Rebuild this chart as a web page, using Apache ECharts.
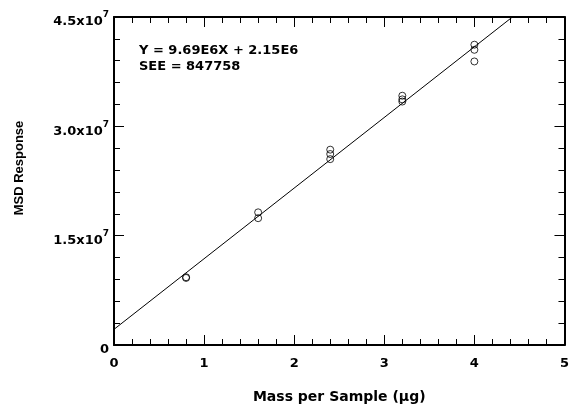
<!DOCTYPE html>
<html>
<head>
<meta charset="utf-8">
<script src="https://cdn.jsdelivr.net/npm/echarts@6/dist/echarts.min.js"></script>
<style>
  html, body { margin: 0; padding: 0; background: #fff; }
  #chart { width: 572px; height: 409px; }
</style>
</head>
<body>
<div id="chart"></div>
<script>
// Mass loaded per sample (µg) and the MSD response for each replicate
const massLevels = [0.8, 0.8, 1.6, 1.6, 2.4, 2.4, 2.4, 3.2, 3.2, 3.2, 4.0, 4.0, 4.0];
const responses = [9.2e6, 9.3e6, 1.74e7, 1.82e7, 2.55e7, 2.62e7, 2.68e7, 3.34e7, 3.37e7, 3.42e7, 3.89e7, 4.05e7, 4.12e7];

// Least-squares fit printed on the chart
const slope = 9.69e6;
const intercept = 2.15e6;
const see = 847758;
const fitRange = [0, 5];

// Axis ranges and tick steps
const xRange = [0, 5];
const xStep = 1;
const yRange = [0, 4.5e7];
const yStep = 1.5e7;

const WIDE = '"DejaVu Sans", Verdana, sans-serif';
const NARROW = '"Liberation Sans", Arial, Helvetica, sans-serif';

function yTickLabel(v) {
  if (v === 0) return '{b|0}';
  const exp = Math.floor(Math.log10(v));
  const mant = (v / Math.pow(10, exp)).toFixed(1);
  return '{b|' + mant + 'x10}{s|' + exp + '}';
}

const points = massLevels.map((m, i) => [m, responses[i]]);
const fitLine = fitRange.map(x => [x, slope * x + intercept]);

const chart = echarts.init(document.getElementById('chart'), null, { renderer: 'canvas' });

const axisLineStyle = { color: '#000', width: 2 };
const baseX = {
  type: 'value', min: xRange[0], max: xRange[1], interval: xStep,
  axisLine: { show: true, onZero: false, lineStyle: axisLineStyle },
  axisTick: { show: true, inside: true, length: 10, lineStyle: { color: '#000', width: 1 } },
  minorTick: { show: true, splitNumber: 5, length: 6, lineStyle: { color: '#000', width: 1 } },
  splitLine: { show: false },
  minorSplitLine: { show: false }
};
const baseY = {
  type: 'value', min: yRange[0], max: yRange[1], interval: yStep,
  axisLine: { show: true, onZero: false, lineStyle: axisLineStyle },
  axisTick: { show: true, inside: true, length: 10, lineStyle: { color: '#000', width: 1 } },
  minorTick: { show: true, splitNumber: 5, length: 6, lineStyle: { color: '#000', width: 1 } },
  splitLine: { show: false },
  minorSplitLine: { show: false }
};

chart.setOption({
  animation: false,
  backgroundColor: '#fff',
  grid: { left: 114, right: 3, top: 17, bottom: 60, containLabel: false },
  xAxis: [
    Object.assign({}, baseX, {
      position: 'bottom',
      name: 'Mass per Sample (\u03bcg)',
      nameLocation: 'middle',
      nameGap: 45,
      nameTextStyle: { fontFamily: WIDE, fontWeight: 'bold', fontSize: 14, color: '#000' },
      axisLabel: { show: true, margin: 12, fontFamily: WIDE, fontWeight: 'bold', fontSize: 13, color: '#000' }
    }),
    Object.assign({}, baseX, { position: 'top', axisLabel: { show: false } })
  ],
  yAxis: [
    Object.assign({}, baseY, {
      position: 'left',
      name: 'MSD Response',
      nameLocation: 'middle',
      nameGap: 88,
      nameRotate: 90,
      nameTextStyle: { fontFamily: NARROW, fontWeight: 'bold', fontSize: 13, color: '#000', padding: [0, 0, 0, 26] },
      axisLabel: {
        show: true, margin: 5, color: '#000',
        padding: [5, 0, 0, 0],
        formatter: yTickLabel,
        rich: {
          b: { fontFamily: WIDE, fontWeight: 'bold', fontSize: 13, color: '#000', lineHeight: 18, verticalAlign: 'bottom' },
          s: { fontFamily: WIDE, fontWeight: 'bold', fontSize: 9, color: '#000', lineHeight: 18, verticalAlign: 'top' }
        }
      }
    }),
    Object.assign({}, baseY, { position: 'right', axisLabel: { show: false } })
  ],
  graphic: [
    {
      type: 'text', left: 139, top: 43,
      style: {
        text: 'Y = ' + (slope / 1e6).toFixed(2) + 'E6X + ' + (intercept / 1e6).toFixed(2) + 'E6\nSEE = ' + see,
        font: 'bold 13px ' + WIDE, fill: '#000', lineHeight: 16
      }
    }
  ],
  series: [
    {
      type: 'line',
      data: fitLine,
      xAxisIndex: 0, yAxisIndex: 0,
      symbol: 'none',
      clip: true,
      lineStyle: { color: '#000', width: 1 },
      z: 2
    },
    {
      type: 'scatter',
      data: points,
      xAxisIndex: 0, yAxisIndex: 0,
      symbol: 'circle',
      symbolSize: 7,
      itemStyle: { color: 'rgba(255,255,255,0)', borderColor: '#000', borderWidth: 1 },
      z: 3
    }
  ]
});
</script>
</body>
</html>
